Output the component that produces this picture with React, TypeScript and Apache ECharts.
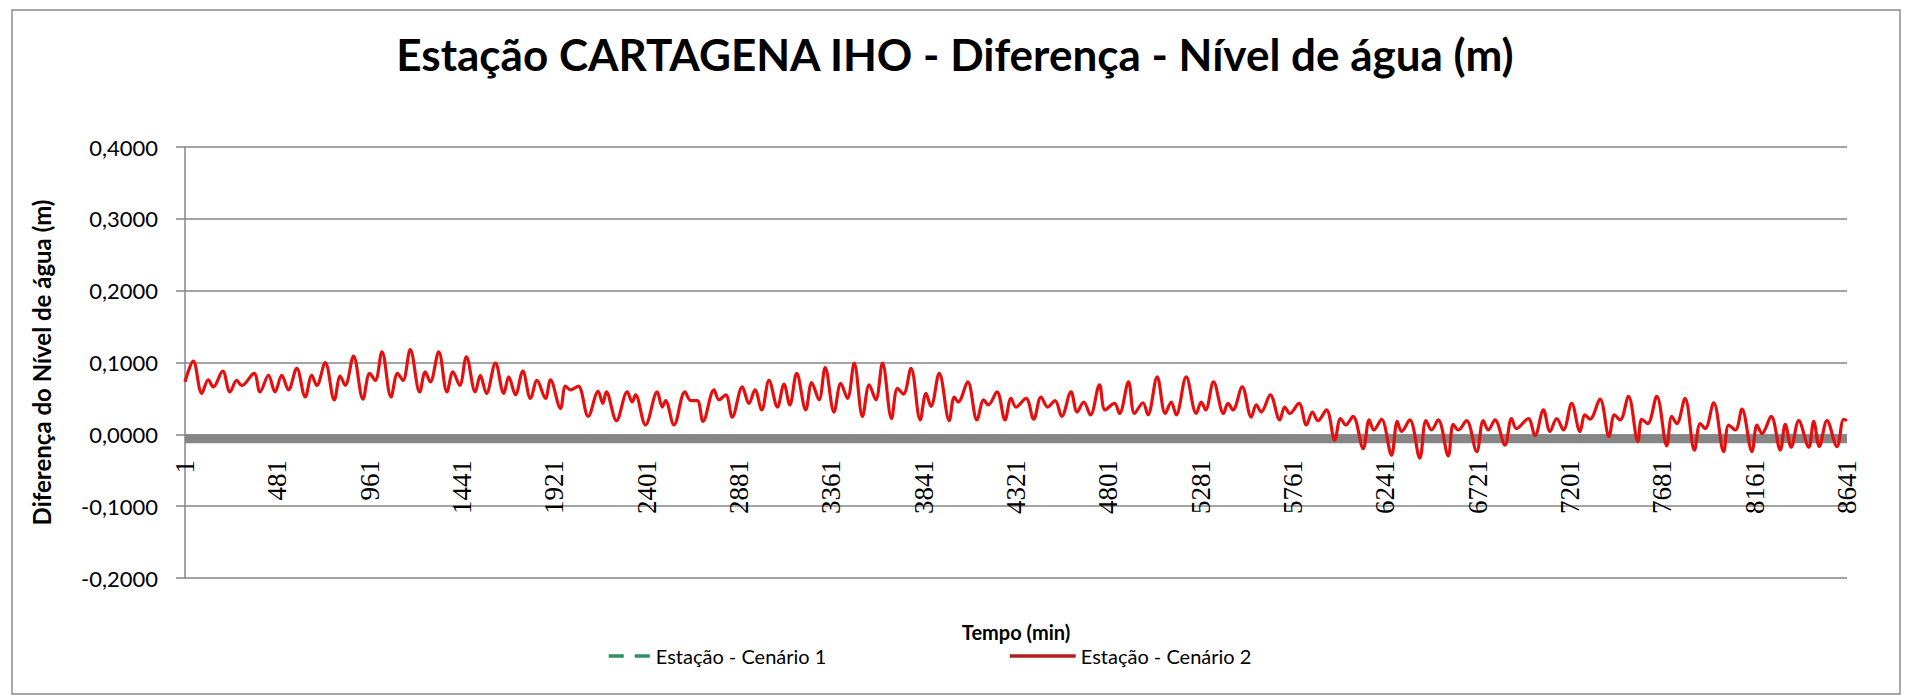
import { useEffect, useRef } from "react";
import * as echarts from "echarts";

// Tempo (passo, 0 = minuto 1) e diferença do nível de água (m)
const passo = [
  0, 43, 87, 121, 147, 196, 234, 269, 295, 359, 390, 434, 468, 503, 538, 581, 625, 659, 685, 729,
  776, 807, 833, 876, 925, 960, 989, 1024, 1071, 1105, 1133, 1171, 1220, 1249, 1275, 1319, 1362, 1393, 1428, 1463,
  1509, 1535, 1567, 1614, 1657, 1683, 1718,
  1756, 1796, 1830, 1874, 1900, 1952, 1978, 2004, 2044, 2096, 2148, 2172, 2190, 2243, 2299, 2325, 2342, 2394,
  2455, 2481, 2498, 2542, 2599, 2629, 2663, 2693, 2750, 2776, 2811, 2845, 2897, 2932, 2963, 2998, 3036, 3080,
  3114, 3144, 3180, 3227, 3258, 3296, 3328, 3374, 3409, 3444, 3479,
  3522, 3557, 3591, 3626, 3673, 3704, 3735, 3774, 3822, 3852, 3878, 3921, 3973, 3999, 4020, 4069, 4117, 4152,
  4176, 4221, 4263, 4294, 4320, 4372, 4412, 4450, 4485, 4523, 4558, 4606, 4638, 4672, 4707, 4754, 4783, 4832,
  4858, 4905, 4936, 4980, 5006, 5054, 5096, 5127, 5153, 5205,
  5257, 5283, 5306, 5347, 5399, 5422, 5448, 5496, 5543, 5569, 5595, 5642, 5691, 5717, 5743, 5791, 5830, 5861,
  5890, 5934, 5977, 6007, 6034, 6072, 6125, 6156, 6180, 6220, 6272, 6302, 6324, 6367, 6419, 6451, 6480, 6515,
  6567, 6593, 6619, 6662, 6715, 6749, 6775, 6810, 6862, 6896, 6922,
  6983, 7018, 7062, 7096, 7131, 7166, 7209, 7252, 7278, 7304, 7356, 7403, 7431, 7461, 7504, 7553, 7573, 7604,
  7651, 7703, 7729, 7755, 7798, 7847, 7877, 7903, 7947, 7999, 8025, 8060, 8094, 8146, 8172, 8198, 8246, 8293,
  8319, 8350, 8389, 8441, 8467, 8496, 8536, 8588, 8623, 8640,
];

const difCenario2 = [
  0.073, 0.102, 0.057, 0.076, 0.066, 0.088, 0.059, 0.075, 0.068, 0.085, 0.059, 0.082, 0.059, 0.082, 0.062, 0.092, 0.052, 0.082, 0.068, 0.100,
  0.048, 0.081, 0.068, 0.109, 0.049, 0.085, 0.075, 0.115, 0.052, 0.085, 0.075, 0.118, 0.059, 0.087, 0.073, 0.115, 0.059, 0.087, 0.068, 0.108,
  0.059, 0.082, 0.057, 0.099, 0.057, 0.080, 0.055,
  0.088, 0.050, 0.075, 0.050, 0.076, 0.036, 0.067, 0.062, 0.067, 0.025, 0.060, 0.043, 0.059, 0.019, 0.059, 0.045, 0.055, 0.013,
  0.059, 0.038, 0.047, 0.013, 0.059, 0.047, 0.047, 0.018, 0.062, 0.048, 0.055, 0.024, 0.066, 0.043, 0.062, 0.034, 0.075, 0.038,
  0.070, 0.041, 0.085, 0.034, 0.072, 0.048, 0.093, 0.031, 0.071, 0.050, 0.099,
  0.025, 0.069, 0.048, 0.099, 0.022, 0.064, 0.056, 0.092, 0.020, 0.057, 0.039, 0.085, 0.019, 0.052, 0.045, 0.073, 0.020, 0.048,
  0.041, 0.059, 0.020, 0.050, 0.038, 0.050, 0.021, 0.052, 0.038, 0.047, 0.025, 0.059, 0.031, 0.045, 0.027, 0.069, 0.034, 0.043,
  0.029, 0.073, 0.029, 0.044, 0.027, 0.080, 0.029, 0.045, 0.027, 0.080,
  0.029, 0.045, 0.034, 0.073, 0.029, 0.043, 0.034, 0.066, 0.024, 0.041, 0.031, 0.055, 0.020, 0.038, 0.029, 0.043, 0.013, 0.031,
  0.019, 0.034, -0.008, 0.022, 0.013, 0.025, -0.020, 0.020, 0.006, 0.021, -0.029, 0.018, 0.004, 0.020, -0.033, 0.019, 0.006, 0.020,
  -0.030, 0.014, 0.006, 0.019, -0.024, 0.019, 0.006, 0.020, -0.015, 0.022, 0.008,
  0.022, -0.002, 0.034, 0.004, 0.022, 0.006, 0.043, 0.004, 0.027, 0.021, 0.049, -0.003, 0.027, 0.020, 0.053, -0.010, 0.021, 0.015,
  0.053, -0.016, 0.025, 0.015, 0.050, -0.022, 0.015, 0.008, 0.044, -0.024, 0.013, 0.006, 0.035, -0.024, 0.013, 0.001, 0.025, -0.022,
  0.014, -0.018, 0.019, -0.018, 0.018, -0.017, 0.019, -0.017, 0.021, 0.019,
];

// Cenário 1: não aparece no traçado (apenas na legenda)
const difCenario1: [number, number][] = [];

const serieNomes = ["Estação - Cenário 1", "Estação - Cenário 2"];
const faixaZero = [0, -0.0125];

const SANS = 'Lato, "Open Sans", "DejaVu Sans", sans-serif';
const SERIF = '"Liberation Serif", "DejaVu Serif", serif';

// geometria da área do gráfico (px)
const GRID_TOP = 147;
const GRID_H = 431;
const Y_MIN = -0.2;
const Y_MAX = 0.4;

export default function App() {
  const ref = useRef<HTMLDivElement>(null);

  useEffect(() => {
    if (!ref.current) return;
    const chart = echarts.init(ref.current, null, { renderer: "svg" });
    const serie2 = passo.map((p, i) => [p, difCenario2[i]]);
    // o eixo das abscissas cruza em zero: deslocamento a partir da base da grade
    const zeroOffset = -Math.round((0 - Y_MIN) / (Y_MAX - Y_MIN) * GRID_H);

    const legendBase = {
      itemHeight: 14,
      itemGap: 0,
      itemStyle: { opacity: 0 },
      textStyle: { fontFamily: SANS, fontSize: 20, color: "#000" },
    };

    chart.setOption({
      animation: false,
      backgroundColor: "#ffffff",
      title: {
        text: "Estação CARTAGENA IHO - Diferença - Nível de água (m)",
        left: "center",
        top: 27,
        textStyle: { fontFamily: SANS, fontSize: 44, fontWeight: "bold", color: "#000" },
      },
      graphic: [
        {
          type: "rect",
          shape: { x: 12, y: 10, width: 1888, height: 684 },
          style: { fill: "none", stroke: "#8c8c8c", lineWidth: 1.5 },
          silent: true,
        },
      ],
      legend: [
        {
          ...legendBase,
          data: [serieNomes[0]],
          left: 602,
          top: 641,
          itemWidth: 42,
          lineStyle: { color: "#2f8f62", width: 3.5, type: [15, 11] },
        },
        {
          ...legendBase,
          data: [serieNomes[1]],
          left: 1003,
          top: 641,
          itemWidth: 66,
          lineStyle: { color: "#b81c1c", width: 3.5 },
        },
      ],
      grid: {
        left: 185,
        top: GRID_TOP,
        width: 1662,
        height: GRID_H,
        containLabel: false,
        outerBoundsMode: "none",
      },
      xAxis: {
        type: "value",
        min: 0,
        max: 8640,
        interval: 480,
        position: "bottom",
        offset: zeroOffset,
        name: "Tempo (min)",
        nameLocation: "middle",
        nameGap: 188,
        nameTextStyle: { fontFamily: SANS, fontSize: 20, fontWeight: "bold", color: "#000" },
        axisLine: { show: false, onZero: false },
        axisTick: { show: false },
        splitLine: { show: false },
        axisLabel: {
          rotate: 90,
          margin: 26,
          padding: [10, 0, 0, 0],
          fontFamily: SERIF,
          fontSize: 27,
          color: "#000",
          formatter: (v: number) => String(v + 1),
        },
      },
      yAxis: {
        type: "value",
        min: Y_MIN,
        max: Y_MAX,
        interval: 0.1,
        name: "Diferença do Nível de água (m)",
        nameLocation: "middle",
        nameGap: 132,
        nameTextStyle: { fontFamily: SANS, fontSize: 24, fontWeight: "bold", color: "#000" },
        axisLine: { show: true, onZero: false, lineStyle: { color: "#868686", width: 1.5 } },
        axisTick: { show: true, inside: false, length: 9, lineStyle: { color: "#868686", width: 1.5 } },
        splitLine: { show: true, lineStyle: { color: "#868686", width: 1.5 } },
        axisLabel: {
          margin: 27,
          fontFamily: SANS,
          fontSize: 22,
          color: "#000",
          formatter: (v: number) => v.toFixed(4).replace(".", ","),
        },
      },
      series: [
        {
          name: serieNomes[0],
          type: "line",
          data: difCenario1,
          symbol: "none",
          z: 1,
          color: "#2f8f62",
          lineStyle: { color: "#2f8f62", width: 3.5, type: [15, 11] },
          markArea: {
            silent: true,
            itemStyle: { color: "#868686", opacity: 1 },
            data: [[{ yAxis: faixaZero[0] }, { yAxis: faixaZero[1] }]],
          },
        },
        {
          name: serieNomes[1],
          type: "line",
          data: serie2,
          symbol: "none",
          smooth: 0.35,
          z: 4,
          color: "#b81c1c",
          lineStyle: { color: "#e3100f", width: 3.2 },
        },
      ],
    });

    return () => chart.dispose();
  }, []);

  return (
    <div
      ref={ref}
      style={{ position: "fixed", left: 0, top: 0, width: 1910, height: 700, background: "#fff" }}
    />
  );
}
